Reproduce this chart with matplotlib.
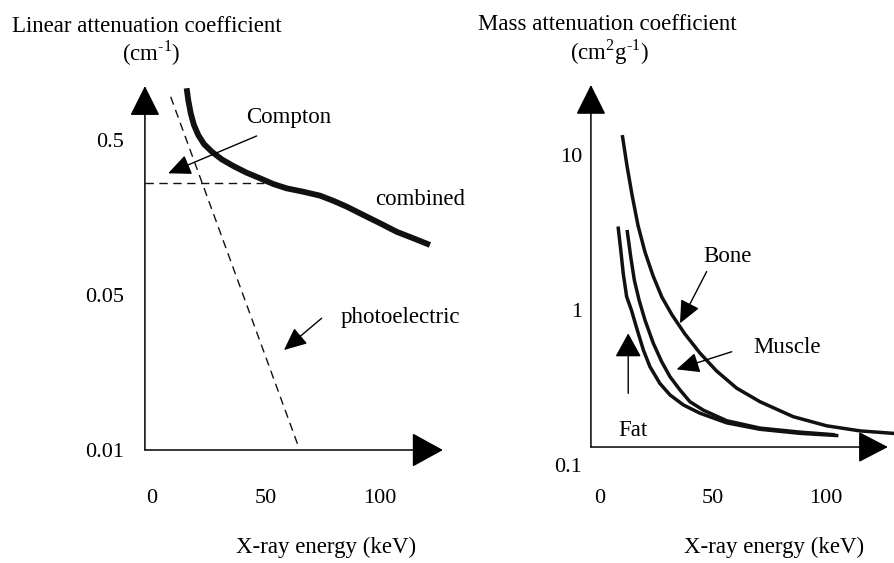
import matplotlib
matplotlib.use("Agg")
import matplotlib.pyplot as plt
import numpy as np

plt.rcParams['font.family'] = ['Liberation Serif', 'DejaVu Serif']
plt.rcParams['mathtext.fontset'] = 'custom'
plt.rcParams['mathtext.rm'] = 'Liberation Serif'

# ---- left panel: linear attenuation (schematic, y in "level" units) ----
# level 0 -> 0.01, 1 -> 0.05, 2 -> 0.5
lin_yticks = [0, 1, 2]
lin_ylabels = ['0.01', '0.05', '0.5']
kev_ticks = [0, 50, 100]
kev_labels = ['0', '50', '100']

combined_kev = [15.2, 15.9, 17.0, 18.4, 20.3, 22.8, 26.2, 30.6, 35.7, 41.5, 47.4,
                53.2, 59.1, 66.4, 73.7, 79.5, 85.4, 92.7, 100.0, 107.3, 114.6, 121.9]
combined_lvl = [2.334, 2.258, 2.172, 2.097, 2.032, 1.974, 1.925, 1.875, 1.832, 1.789, 1.753,
                1.716, 1.688, 1.666, 1.641, 1.608, 1.570, 1.516, 1.463, 1.408, 1.366, 1.323]
compton_kev = [-3.1, 49.0]
compton_lvl = [1.72, 1.72]
photo_kev = [8.2, 64.0]
photo_lvl = [2.279, 0.032]

# ---- right panel: mass attenuation (log scale) ----
bone_kev = [10.0, 11.9, 14.2, 16.8, 19.9, 23.5, 27.4, 31.9, 37.6, 44.2, 51.6,
            60.5, 70.8, 85.5, 100.3, 115.0, 129.8]
bone_mu = [13.1, 8.62, 5.52, 3.53, 2.37, 1.66, 1.21, 0.929, 0.700, 0.528, 0.404,
           0.313, 0.256, 0.205, 0.179, 0.166, 0.160]
muscle_kev = [12.1, 13.6, 15.2, 17.3, 19.9, 23.6, 27.3, 31.0, 35.4, 39.8, 45.7,
              56.1, 70.8, 88.5, 103.2]
muscle_mu = [3.20, 2.21, 1.56, 1.16, 0.862, 0.610, 0.464, 0.371, 0.305, 0.256, 0.226,
             0.193, 0.173, 0.163, 0.157]
fat_kev = [8.1, 9.2, 10.3, 11.8, 13.9, 16.5, 19.2, 22.1, 26.5, 31.0, 36.9, 44.2,
           56.1, 70.8, 88.5, 104.7]
fat_mu = [3.37, 2.44, 1.72, 1.22, 1.0, 0.743, 0.552, 0.431, 0.336, 0.283, 0.244, 0.216,
          0.187, 0.170, 0.160, 0.155]
mass_yticks = [0.1, 1, 10]
mass_ylabels = ['0.1', '1', '10']

W, H = 894, 563
fig = plt.figure(figsize=(W / 100, H / 100), dpi=100)


def px_axes(x0, x1, y0, y1):
    # pixel box -> figure axes
    return fig.add_axes([x0 / W, 1 - y1 / H, (x1 - x0) / W, (y1 - y0) / H])


def arrow(ax, start, tip, scale=14, hw=0.45, lw=1.0):
    ax.annotate('', xy=tip, xytext=start,
                arrowprops=dict(arrowstyle='-|>,head_length=1.0,head_width=%g' % hw,
                                mutation_scale=scale, lw=lw, color='k',
                                shrinkA=0, shrinkB=0))


fs = 16.5
k = '#111111'

# left
ax1 = px_axes(138.3, 448.4, 70.25, 465.5)
ax1.set_xlim(-6, 130)
ax1.set_ylim(-0.1, 2.45)
for s in ax1.spines.values():
    s.set_visible(False)
arrow(ax1, (-3.1, 0), (127.6, 0), scale=20, hw=0.55, lw=1.1)
arrow(ax1, (-3.1, 0), (-3.1, 2.348), scale=19, hw=0.5, lw=1.1)
ax1.plot(combined_kev, combined_lvl, color=k, lw=4.2, solid_capstyle='butt', solid_joinstyle='round')
ax1.plot(compton_kev, compton_lvl, color=k, lw=1.0, ls=(0, (6, 4)))
ax1.plot(photo_kev, photo_lvl, color=k, lw=1.0, ls=(0, (6, 4)))
arrow(ax1, (45.9, 2.026), (7.1, 1.785))
arrow(ax1, (74.4, 0.850), (57.9, 0.645))
ax1.text(41.5, 2.142, 'Compton', fontsize=fs, va='center', ha='left')
ax1.text(97.8, 1.613, 'combined', fontsize=fs, va='center', ha='left')
ax1.text(82.5, 0.858, 'photoelectric', fontsize=fs, va='center', ha='left')
ax1.set_xticks(kev_ticks, kev_labels)
ax1.set_yticks(lin_yticks, lin_ylabels)
ax1.tick_params(length=0, labelsize=16)
ax1.tick_params(axis='x', pad=17)
ax1.tick_params(axis='y', pad=10)

# right
ax2 = px_axes(586.4, 893.8, 69.75, 472.75)
ax2.set_xlim(-6, 130)
ax2.set_yscale('log')
ax2.set_ylim(10 ** -1.05, 10 ** 1.55)
for s in ax2.spines.values():
    s.set_visible(False)
y_axis = 10 ** -0.884
arrow(ax2, (-4, y_axis), (127.4, y_axis), scale=19, hw=0.52, lw=1.1)
arrow(ax2, (-4, y_axis), (-4, 10 ** 1.452), scale=19, hw=0.5, lw=1.1)
for xs, ys in [(bone_kev, bone_mu), (muscle_kev, muscle_mu), (fat_kev, fat_mu)]:
    ax2.plot(xs, ys, color=k, lw=2.5, solid_joinstyle='round')
arrow(ax2, (47.2, 1.77), (35.4, 0.82))
arrow(ax2, (58.3, 0.538), (33.9, 0.414))
arrow(ax2, (12.5, 0.290), (12.5, 0.707), scale=15, hw=0.55)
ax2.text(45.6, 2.20, 'Bone', fontsize=fs, va='center', ha='left')
ax2.text(67.7, 0.577, 'Muscle', fontsize=fs, va='center', ha='left')
ax2.text(8.0, 0.166, 'Fat', fontsize=fs, va='center', ha='left')
ax2.set_xticks(kev_ticks, kev_labels)
ax2.set_yticks(mass_yticks, mass_ylabels)
ax2.yaxis.set_minor_locator(matplotlib.ticker.NullLocator())
ax2.tick_params(which='both', length=0, labelsize=16)
ax2.tick_params(axis='x', pad=12)
ax2.tick_params(axis='y', pad=3)

# titles and axis labels
fig.text(12 / W, 1 - 26 / H, 'Linear attenuation coefficient', fontsize=fs, va='center', ha='left')
fig.text(151 / W, 1 - 53 / H, r'(cm$^{\text{-1}}$)', fontsize=fs, va='center', ha='center')
fig.text(737 / W, 1 - 25 / H, 'Mass attenuation coefficient', fontsize=fs, va='center', ha='right')
fig.text(609 / W, 1 - 52 / H, r'(cm$^{\text{2}}$g$^{\text{-1}}$)', fontsize=fs, va='center', ha='center')
fig.text(326 / W, 1 - 547 / H, 'X-ray energy (keV)', fontsize=fs, va='center', ha='center')
fig.text(774 / W, 1 - 547 / H, 'X-ray energy (keV)', fontsize=fs, va='center', ha='center')

fig.savefig('out.png', dpi=100)
